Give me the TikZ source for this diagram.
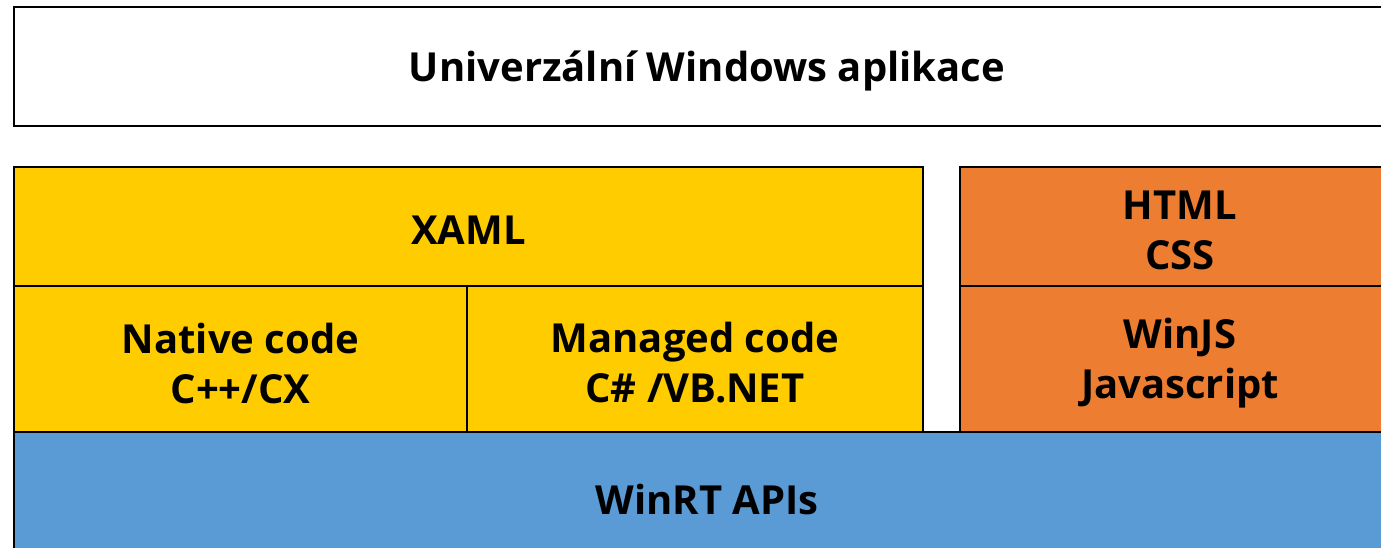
\documentclass[tikz,border=0pt]{standalone}
\usepackage{fontspec}
\setmainfont{Open Sans}
\definecolor{xyellow}{HTML}{FFCC00}
\definecolor{xorange}{HTML}{ED7D31}
\definecolor{xblue}{HTML}{5B9BD5}
\begin{document}
\begin{tikzpicture}[x=1pt,y=-1pt,
  blk/.style={draw=black,line width=2pt,rectangle,inner sep=0pt,outer sep=0pt,anchor=north west},
  lbl/.style={font=\fontsize{40}{50}\selectfont\bfseries,align=center,text=black,yshift=-4pt,inner sep=0pt}]
\useasboundingbox (0,0) rectangle (1381,547);
\clip (0,0) rectangle (1381,547);
\node[blk,fill=white,minimum width=1386pt,minimum height=119pt,label={[lbl]center:{Univerzální Windows aplikace}}] (app) at (14,7) {};
\node[blk,fill=xyellow,minimum width=909pt,minimum height=119pt,label={[lbl]center:{XAML}}] (xaml) at (14,167) {};
\node[blk,fill=xyellow,minimum width=453pt,minimum height=146pt,label={[lbl]center:{Native code\\C++/CX}}] (native) at (14,286) {};
\node[blk,fill=xyellow,minimum width=456pt,minimum height=146pt,label={[lbl]center:{Managed code\\C\# /VB.NET}}] (managed) at (467,286) {};
\node[blk,fill=xorange,minimum width=440pt,minimum height=119pt,label={[lbl]center:{HTML\\CSS}}] (html) at (960,167) {};
\node[blk,fill=xorange,minimum width=440pt,minimum height=146pt,label={[lbl]center:{WinJS\\Javascript}}] (winjs) at (960,286) {};
\node[blk,fill=xblue,minimum width=1386pt,minimum height=126pt,label={[lbl]center:{WinRT APIs}}] (winrt) at (14,432) {};
\end{tikzpicture}
\end{document}
